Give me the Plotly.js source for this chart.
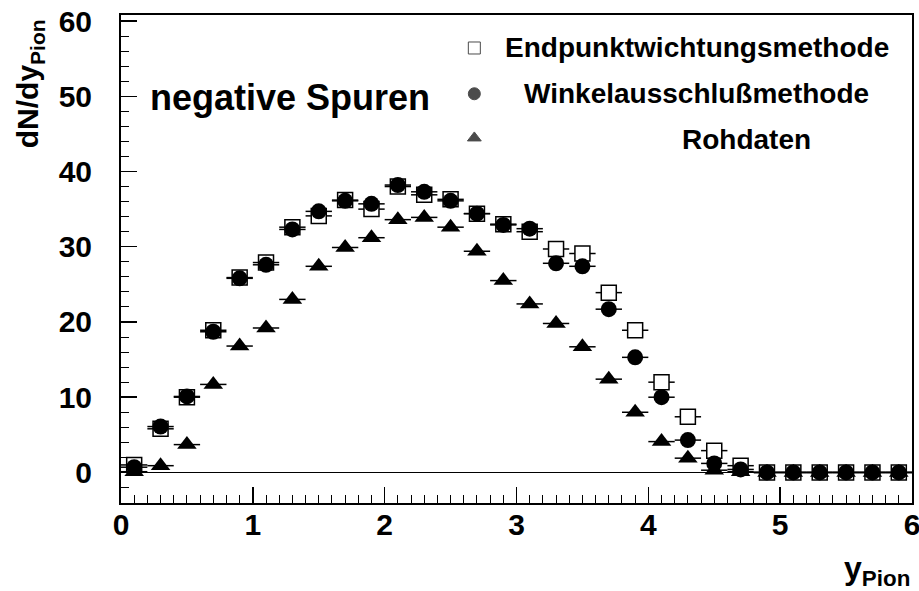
<!DOCTYPE html>
<html>
<head>
<meta charset="utf-8">
<script src="https://cdn.plot.ly/plotly-3.0.1.min.js"></script>
<style>html,body{margin:0;padding:0;background:#fff;}#chart{width:919px;height:591px;}</style>
</head>
<body>
<div id="chart"></div>
<script>
// Bin centres (rapidity y_Pion), bin half-width 0.1
const yPion = [0.1,0.3,0.5,0.7,0.9,1.1,1.3,1.5,1.7,1.9,2.1,2.3,2.5,2.7,2.9,3.1,3.3,3.5,3.7,3.9,4.1,4.3,4.5,4.7,4.9,5.1,5.3,5.5,5.7,5.9];
const binHalfWidth = 0.1;
// Endpunktwichtungsmethode (open squares)
const endpunkt = [1.0,5.8,10.0,18.9,25.9,27.9,32.6,34.1,36.2,35.0,38.0,36.9,36.3,34.4,33.0,32.0,29.7,29.1,23.9,18.9,12.0,7.4,2.9,0.9,0.0,0.0,0.0,0.0,0.0,0.0];
// Winkelausschlußmethode (filled circles)
const winkel = [0.7,6.1,10.1,18.7,25.8,27.6,32.3,34.7,36.1,35.7,38.2,37.3,36.1,34.4,32.9,32.4,27.8,27.4,21.7,15.3,10.0,4.3,1.2,0.4,0.0,0.0,0.0,0.0,0.0,0.0];
// Rohdaten (filled triangles)
const rohdaten = [0.1,0.9,3.7,11.7,16.8,19.2,23.0,27.4,29.9,31.2,33.6,33.9,32.6,29.4,25.5,22.4,19.8,16.7,12.4,8.0,4.1,1.9,0.3,0.1,0.0,0.0,0.0,0.0,0.0,0.0];

const seriesNames = ["Endpunktwichtungsmethode","Winkelausschlußmethode","Rohdaten"];
const titleText = "negative Spuren";
const xTitle = "y<sub>Pion</sub>";
const yTitle = "dN/dy<sub>Pion</sub>";
const xTickVals = [0,1,2,3,4,5,6];

const FONT = "Liberation Sans, Arial, Helvetica, sans-serif";
const errX = {type:'constant', value:binHalfWidth, width:0, thickness:1.5, color:'#000'};

const traces = [
  {x:yPion, y:endpunkt, type:'scatter', mode:'markers', name:seriesNames[0],
   marker:{symbol:'square', size:15, color:'#fff', line:{color:'#000', width:1.5}}, error_x:errX},
  {x:yPion, y:rohdaten, type:'scatter', mode:'markers', name:seriesNames[2],
   marker:{symbol:'triangle-up', size:17, color:'#000', line:{width:0}}, error_x:errX},
  {x:yPion, y:winkel, type:'scatter', mode:'markers', name:seriesNames[1],
   marker:{symbol:'circle', size:16, color:'#000', line:{width:0}}, error_x:errX},
  // legend symbols on an overlay paper-like axis
  {x:[0.4467,0.4467,0.4467], y:[0.9324,0.8386,0.7481], xaxis:'x2', yaxis:'y2', type:'scatter', mode:'markers',
   marker:{symbol:['square','circle','triangle-up'], size:[12,12,12], color:['#fff','#000','#000'], line:{color:'#000', width:1}},
   hoverinfo:'skip'}
];

const layout = {
  width:919, height:591,
  margin:{l:121, r:7, t:15, b:88},
  paper_bgcolor:'#fff', plot_bgcolor:'#fff',
  showlegend:false,
  font:{family:FONT, color:'#000'},
  xaxis:{range:[0,6], tickmode:'array', tickvals:xTickVals, ticktext:xTickVals.map(String),
    showgrid:false, zeroline:false, ticklabeloverflow:'allow',
    showline:true, linecolor:'#000', linewidth:2, mirror:true,
    ticks:'inside', ticklen:16, tickwidth:1.5, tickcolor:'#000',
    minor:{ticks:'inside', dtick:0.1, tick0:0, ticklen:8, tickwidth:1, tickcolor:'#000', showgrid:false},
    tickfont:{family:FONT, size:30, weight:'bold', color:'#000'}, ticklabelstandoff:-6},
  yaxis:{range:[-4.06,60.8], dtick:10, tick0:0, showgrid:false,
    zeroline:true, zerolinecolor:'#000', zerolinewidth:1, ticklabeloverflow:'allow',
    showline:true, linecolor:'#000', linewidth:2, mirror:true,
    ticks:'inside', ticklen:16, tickwidth:1.5, tickcolor:'#000',
    minor:{ticks:'inside', dtick:2, ticklen:8, tickwidth:1, tickcolor:'#000', showgrid:false},
    tickfont:{family:FONT, size:30, weight:'bold', color:'#000'}, ticklabelstandoff:21},
  xaxis2:{range:[0,1], overlaying:'x', visible:false, fixedrange:true},
  yaxis2:{range:[0,1], overlaying:'y', visible:false, fixedrange:true},
  annotations:[
    {text:titleText, xref:'paper', yref:'paper', x:0.0345, y:0.83, xanchor:'left', yanchor:'middle', showarrow:false,
     font:{family:FONT, size:36, weight:'bold', color:'#000'}},
    {text:seriesNames[0], xref:'paper', yref:'paper', x:0.4833, y:0.9324, xanchor:'left', yanchor:'middle', showarrow:false,
     font:{family:FONT, size:28, weight:'bold', color:'#000'}},
    {text:seriesNames[1], xref:'paper', yref:'paper', x:0.5073, y:0.8386, xanchor:'left', yanchor:'middle', showarrow:false,
     font:{family:FONT, size:28, weight:'bold', color:'#000'}},
    {text:seriesNames[2], xref:'paper', yref:'paper', x:0.7071, y:0.744, xanchor:'left', yanchor:'middle', showarrow:false,
     font:{family:FONT, size:28, weight:'bold', color:'#000'}},
    {text:xTitle, xref:'paper', yref:'paper', x:1.0, y:-0.138, xanchor:'right', yanchor:'middle', showarrow:false,
     font:{family:FONT, size:32, weight:'bold', color:'#000'}},
    {text:yTitle, xref:'paper', yref:'paper', x:-0.1147, y:0.8587, xanchor:'center', yanchor:'middle', textangle:-90, showarrow:false,
     font:{family:FONT, size:30, weight:'bold', color:'#000'}}
  ]
};

Plotly.newPlot('chart', traces, layout, {staticPlot:true, displayModeBar:false});
</script>
</body>
</html>
